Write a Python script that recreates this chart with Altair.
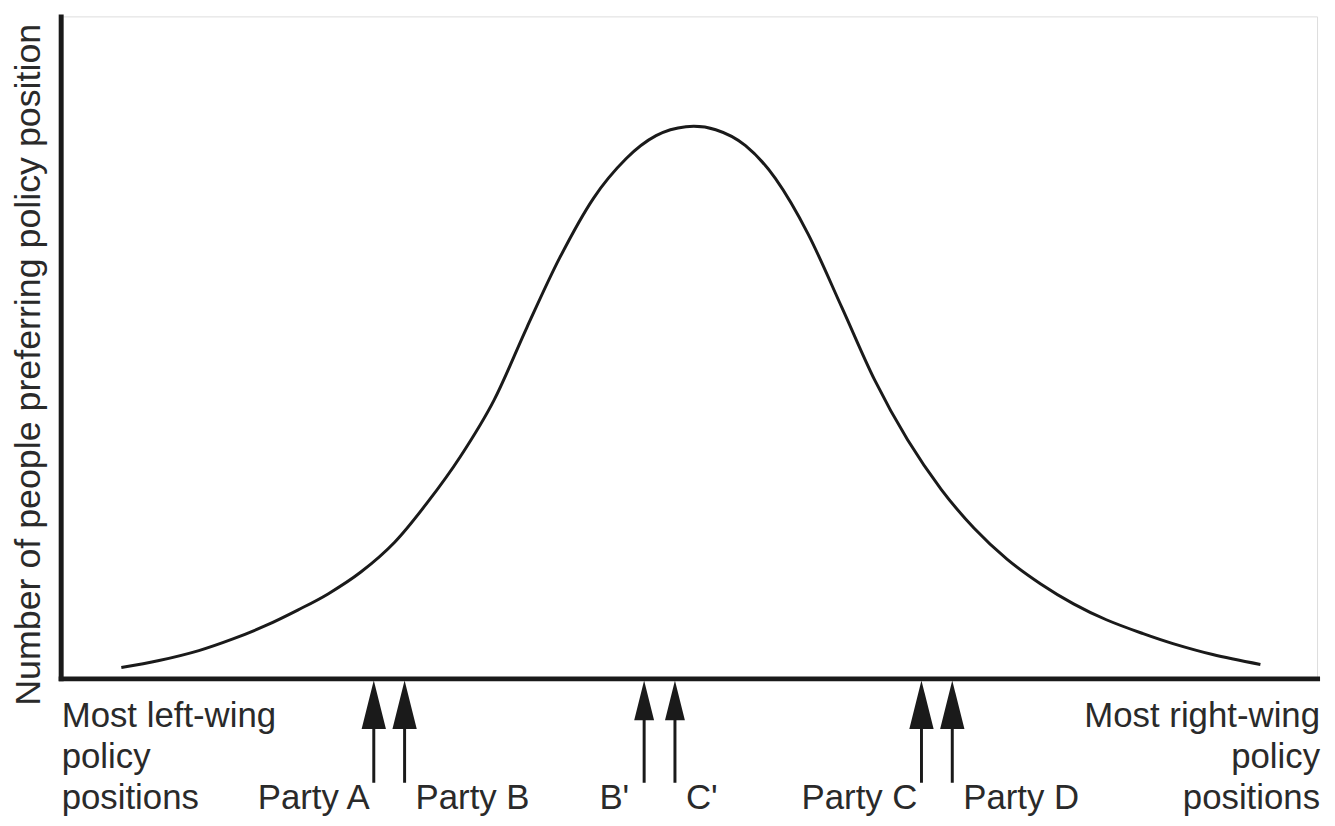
import altair as alt
import pandas as pd

# Curve (policy position, number of people), in plot units
curve_x = [61, 99, 139, 174, 206, 239, 269, 302, 336, 369, 402, 436, 469, 502, 536,
           569, 599, 629, 659, 689, 719, 752, 786, 819, 852, 886, 919, 952, 986,
           1019, 1052, 1089, 1119, 1159, 1207]
curve_y = [11, 18, 28, 40, 53, 69, 85, 107, 137, 177, 223, 280, 353, 423, 483,
           523, 546, 555, 552, 536, 503, 447, 373, 300, 240, 190, 151, 120, 95,
           75, 59, 45, 35, 24, 14]

party_labels = ["Party A", "Party B", "B'", "C'", "Party C", "Party D"]
party_pos = [315, 346, 587, 618, 866, 897]
party_side = ["left", "right", "left", "right", "left", "right"]
party_kind = ["original", "original", "shifted", "shifted", "original", "original"]

end_labels = ["Most left-wing\npolicy\npositions", "Most right-wing\npolicy\npositions"]
end_side = ["left", "right"]

y_title = "Number of people preferring policy position"

FONT = "Liberation Sans"
INK = "#1a1a1a"
TXT = "#2a2a2a"

curve_df = pd.DataFrame({"x": curve_x, "y": curve_y})
party_df = pd.DataFrame({"label": party_labels, "pos": party_pos,
                         "side": party_side, "kind": party_kind})
end_df = pd.DataFrame({"label": end_labels, "side": end_side})

xscale = alt.Scale(domain=[0, 1264], nice=False, zero=False)
yscale = alt.Scale(domain=[0, 666], nice=False)

curve = alt.Chart(curve_df).mark_line(
    color=INK, strokeWidth=3, interpolate="cardinal"
).encode(
    x=alt.X("x:Q", scale=xscale,
            axis=alt.Axis(title=None, labels=False, ticks=False, grid=False,
                          domainColor=INK, domainWidth=5, domainCap="square")),
    y=alt.Y("y:Q", scale=yscale,
            axis=alt.Axis(title=y_title, labels=False, ticks=False, grid=False,
                          domainColor=INK, domainWidth=5, domainCap="square",
                          titleFont=FONT, titleFontSize=36, titleFontWeight="normal",
                          titleColor=TXT, titleX=-13, titleY=350,
                          titleAngle=270, titleBaseline="bottom", titleAlign="center")),
)

base = alt.Chart(party_df)

shafts = base.mark_rule(color=INK, strokeWidth=3).encode(
    x=alt.X("pos:Q", scale=xscale),
    y=alt.value(700),
    y2=alt.value(771),
)

heads = base.mark_point(
    shape="M0,0L0.5,2L-0.5,2Z", filled=True, opacity=1, color=INK, strokeWidth=0
).encode(
    x=alt.X("pos:Q", scale=xscale),
    y=alt.value(668),
    size=alt.Size("kind:N", scale=alt.Scale(domain=["original", "shifted"],
                                            range=[2400, 1600]), legend=None),
)

LAB_Y = 797

lab_left_big = base.transform_filter(
    (alt.datum.side == "left") & (alt.datum.kind == "original")
).mark_text(font=FONT, fontSize=35, color=TXT, align="right",
            baseline="alphabetic", dx=-4).encode(
    x=alt.X("pos:Q", scale=xscale), y=alt.value(LAB_Y), text="label:N")

lab_left_small = base.transform_filter(
    (alt.datum.side == "left") & (alt.datum.kind == "shifted")
).mark_text(font=FONT, fontSize=35, color=TXT, align="right",
            baseline="alphabetic", dx=-15).encode(
    x=alt.X("pos:Q", scale=xscale), y=alt.value(LAB_Y), text="label:N")

lab_right = base.transform_filter(alt.datum.side == "right").mark_text(
    font=FONT, fontSize=35, color=TXT, align="left",
    baseline="alphabetic", dx=11).encode(
    x=alt.X("pos:Q", scale=xscale), y=alt.value(LAB_Y), text="label:N")

end_left = alt.Chart(end_df).transform_filter(alt.datum.side == "left").mark_text(
    font=FONT, fontSize=35, color=TXT, align="left", baseline="alphabetic",
    lineBreak="\n", lineHeight=41).encode(
    x=alt.value(1), y=alt.value(715), text="label:N")

end_right = alt.Chart(end_df).transform_filter(alt.datum.side == "right").mark_text(
    font=FONT, fontSize=35, color=TXT, align="right", baseline="alphabetic",
    lineBreak="\n", lineHeight=41).encode(
    x=alt.value(1267), y=alt.value(715), text="label:N")

chart = alt.layer(
    curve, shafts, heads, lab_left_big, lab_left_small, lab_right, end_left, end_right
).properties(
    width=1264, height=666,
    autosize=alt.AutoSizeParams(type="none"),
    padding={"left": 53, "top": 6, "right": 10, "bottom": 138},
).configure_view(stroke=None).configure(background="white")

chart.save("out.html", embed_options={"renderer": "svg", "actions": False})
